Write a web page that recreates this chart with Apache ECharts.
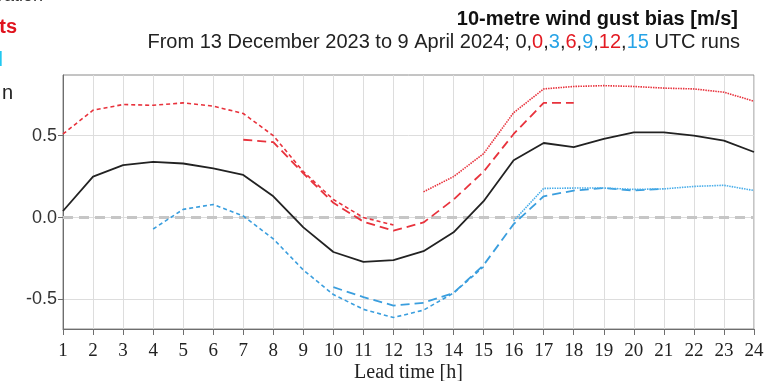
<!DOCTYPE html>
<html>
<head>
<meta charset="utf-8">
<script src="https://cdn.jsdelivr.net/npm/echarts@6/dist/echarts.min.js"></script>
<style>
  html, body { margin: 0; padding: 0; background: #fff; }
  #chart { width: 774px; height: 381px; }
</style>
</head>
<body>
<div id="chart"></div>
<script>
// Lead time axis (hours)
const leadHours = [1,2,3,4,5,6,7,8,9,10,11,12,13,14,15,16,17,18,19,20,21,22,23,24];
const yTicks = [-0.5, 0.0, 0.5];
const zeroLine = [[1, 0], [24, 0]];

// Bias per run; each run starts at its own first lead hour
const run00Start = 1;
const run00All = [0.04,0.25,0.32,0.34,0.33,0.30,0.26,0.13,-0.06,-0.21,-0.27,-0.26,-0.205,-0.09,0.10,0.35,0.455,0.43,0.48,0.52,0.52,0.50,0.47,0.40];
const run00Start12 = 1;
const run00 = [0.51,0.655,0.69,0.685,0.70,0.68,0.635,0.50,0.28,0.11,0.0,-0.045];
const run03Start = 4;
const run03 = [-0.07,0.05,0.08,0.01,-0.13,-0.32,-0.47,-0.56,-0.61,-0.565,-0.46,-0.30];
const run06Start = 7;
const run06 = [0.475,0.46,0.27,0.09,-0.025,-0.08,-0.03,0.11,0.28,0.51,0.70,0.70];
const run09Start = 10;
const run09 = [-0.425,-0.485,-0.537,-0.52,-0.46,-0.29,-0.04,0.13,0.165,0.18,0.165,0.175];
const run12Start = 13;
const run12 = [0.157,0.25,0.39,0.64,0.785,0.80,0.805,0.80,0.79,0.785,0.765,0.71];
const run15Start = 16;
const run15 = [-0.02,0.178,0.18,0.18,0.172,0.175,0.19,0.197,0.165];

const RED = '#e8323c';
const BLUE = '#3a9ede';

function pairs(start, vals) {
  return vals.map((v, i) => [start + i, v]);
}

function lineSeries(name, data, color, type, width, z) {
  return {
    name: name,
    type: 'line',
    data: data,
    showSymbol: false,
    symbol: 'none',
    silent: true,
    z: z,
    lineStyle: { color: color, width: width, type: type, cap: 'butt' }
  };
}

const chart = echarts.init(document.getElementById('chart'), null, { renderer: 'canvas' });

chart.setOption({
  animation: false,
  backgroundColor: '#ffffff',
  grid: {
    left: 63, right: 20, top: 75, bottom: 52,
    outerBoundsMode: 'none',
    containLabel: false,
    show: true, borderColor: '#8a8a8a', borderWidth: 1, backgroundColor: 'transparent'
  },
  xAxis: {
    type: 'value',
    min: 1, max: 24, interval: 1,
    name: 'Lead time [h]',
    nameLocation: 'middle',
    nameGap: 34,
    nameMoveOverlap: false,
    nameTextStyle: { fontFamily: 'Liberation Serif', fontSize: 20, color: '#222' },
    axisLine: { show: true, onZero: false, lineStyle: { color: '#6e6e6e', width: 1 } },
    axisTick: { show: true, length: 6, lineStyle: { color: '#6e6e6e' } },
    axisLabel: { fontFamily: 'Liberation Serif', fontSize: 19, color: '#222', margin: 13 },
    splitLine: { show: true, lineStyle: { color: '#dddddd', width: 1 } }
  },
  yAxis: {
    type: 'value',
    min: -0.68, max: 0.87,
    axisLine: { show: true, onZero: false, lineStyle: { color: '#6e6e6e', width: 1 } },
    axisTick: { show: true, length: 5, customValues: yTicks, lineStyle: { color: '#6e6e6e' } },
    axisLabel: {
      customValues: yTicks,
      fontFamily: 'Liberation Sans', fontSize: 18, color: '#333', margin: 6,
      formatter: v => v.toFixed(1)
    },
    splitLine: { show: true, lineStyle: { color: '#dddddd', width: 1 } }
  },
  graphic: [
    { type: 'text', x: 738, y: 19, style: { text: '10-metre wind gust bias [m/s]', align: 'right', verticalAlign: 'middle', font: 'bold 20px "Liberation Sans"', fill: '#111' } },
    { type: 'text', x: 740, y: 42, style: {
        text: 'From 13 December 2023 to 9 April 2024; 0,{r|0},{b|3},{r|6},{b|9},{r|12},{b|15} UTC runs',
        align: 'right', verticalAlign: 'middle', font: '20px "Liberation Sans"', fill: '#222',
        rich: {
          r: { fill: '#e31a22', font: '20px "Liberation Sans"' },
          b: { fill: '#26a3e6', font: '20px "Liberation Sans"' }
        }
    } },
    // legend entries that run off the left edge of the page
    { type: 'text', x: 43, y: -4, style: { text: 'Forecast vs. observation', align: 'right', verticalAlign: 'middle', font: '18px "Liberation Sans"', fill: '#333' } },
    { type: 'text', x: 17, y: 27, style: { text: 'Even-hour forecasts', align: 'right', verticalAlign: 'middle', font: 'bold 20px "Liberation Sans"', fill: '#e0141e' } },
    { type: 'text', x: 3, y: 60, style: { text: 'Odd-hour model', align: 'right', verticalAlign: 'middle', font: 'bold 20px "Liberation Sans"', fill: '#22c8f0' } },
    { type: 'text', x: 13, y: 93, style: { text: 'Sample size n', align: 'right', verticalAlign: 'middle', font: '20px "Liberation Sans"', fill: '#222' } }
  ],
  series: [
    lineSeries('zero', zeroLine, '#c6c6c6', [10, 6], 3, 1),
    lineSeries('0 UTC', pairs(run00Start, run00All), '#222222', 'solid', 1.8, 3),
    lineSeries('0 UTC run', pairs(run00Start12, run00), RED, [4, 3], 1.6, 3),
    lineSeries('3 UTC run', pairs(run03Start, run03), BLUE, [4, 3], 1.6, 3),
    lineSeries('6 UTC run', pairs(run06Start, run06), RED, [9, 5], 1.8, 3),
    lineSeries('9 UTC run', pairs(run09Start, run09), BLUE, [9, 5], 1.8, 3),
    lineSeries('12 UTC run', pairs(run12Start, run12), RED, [1.5, 1], 1.6, 3),
    lineSeries('15 UTC run', pairs(run15Start, run15), '#4aaeea', [1.5, 1], 1.6, 3)
  ]
});
</script>
</body>
</html>
